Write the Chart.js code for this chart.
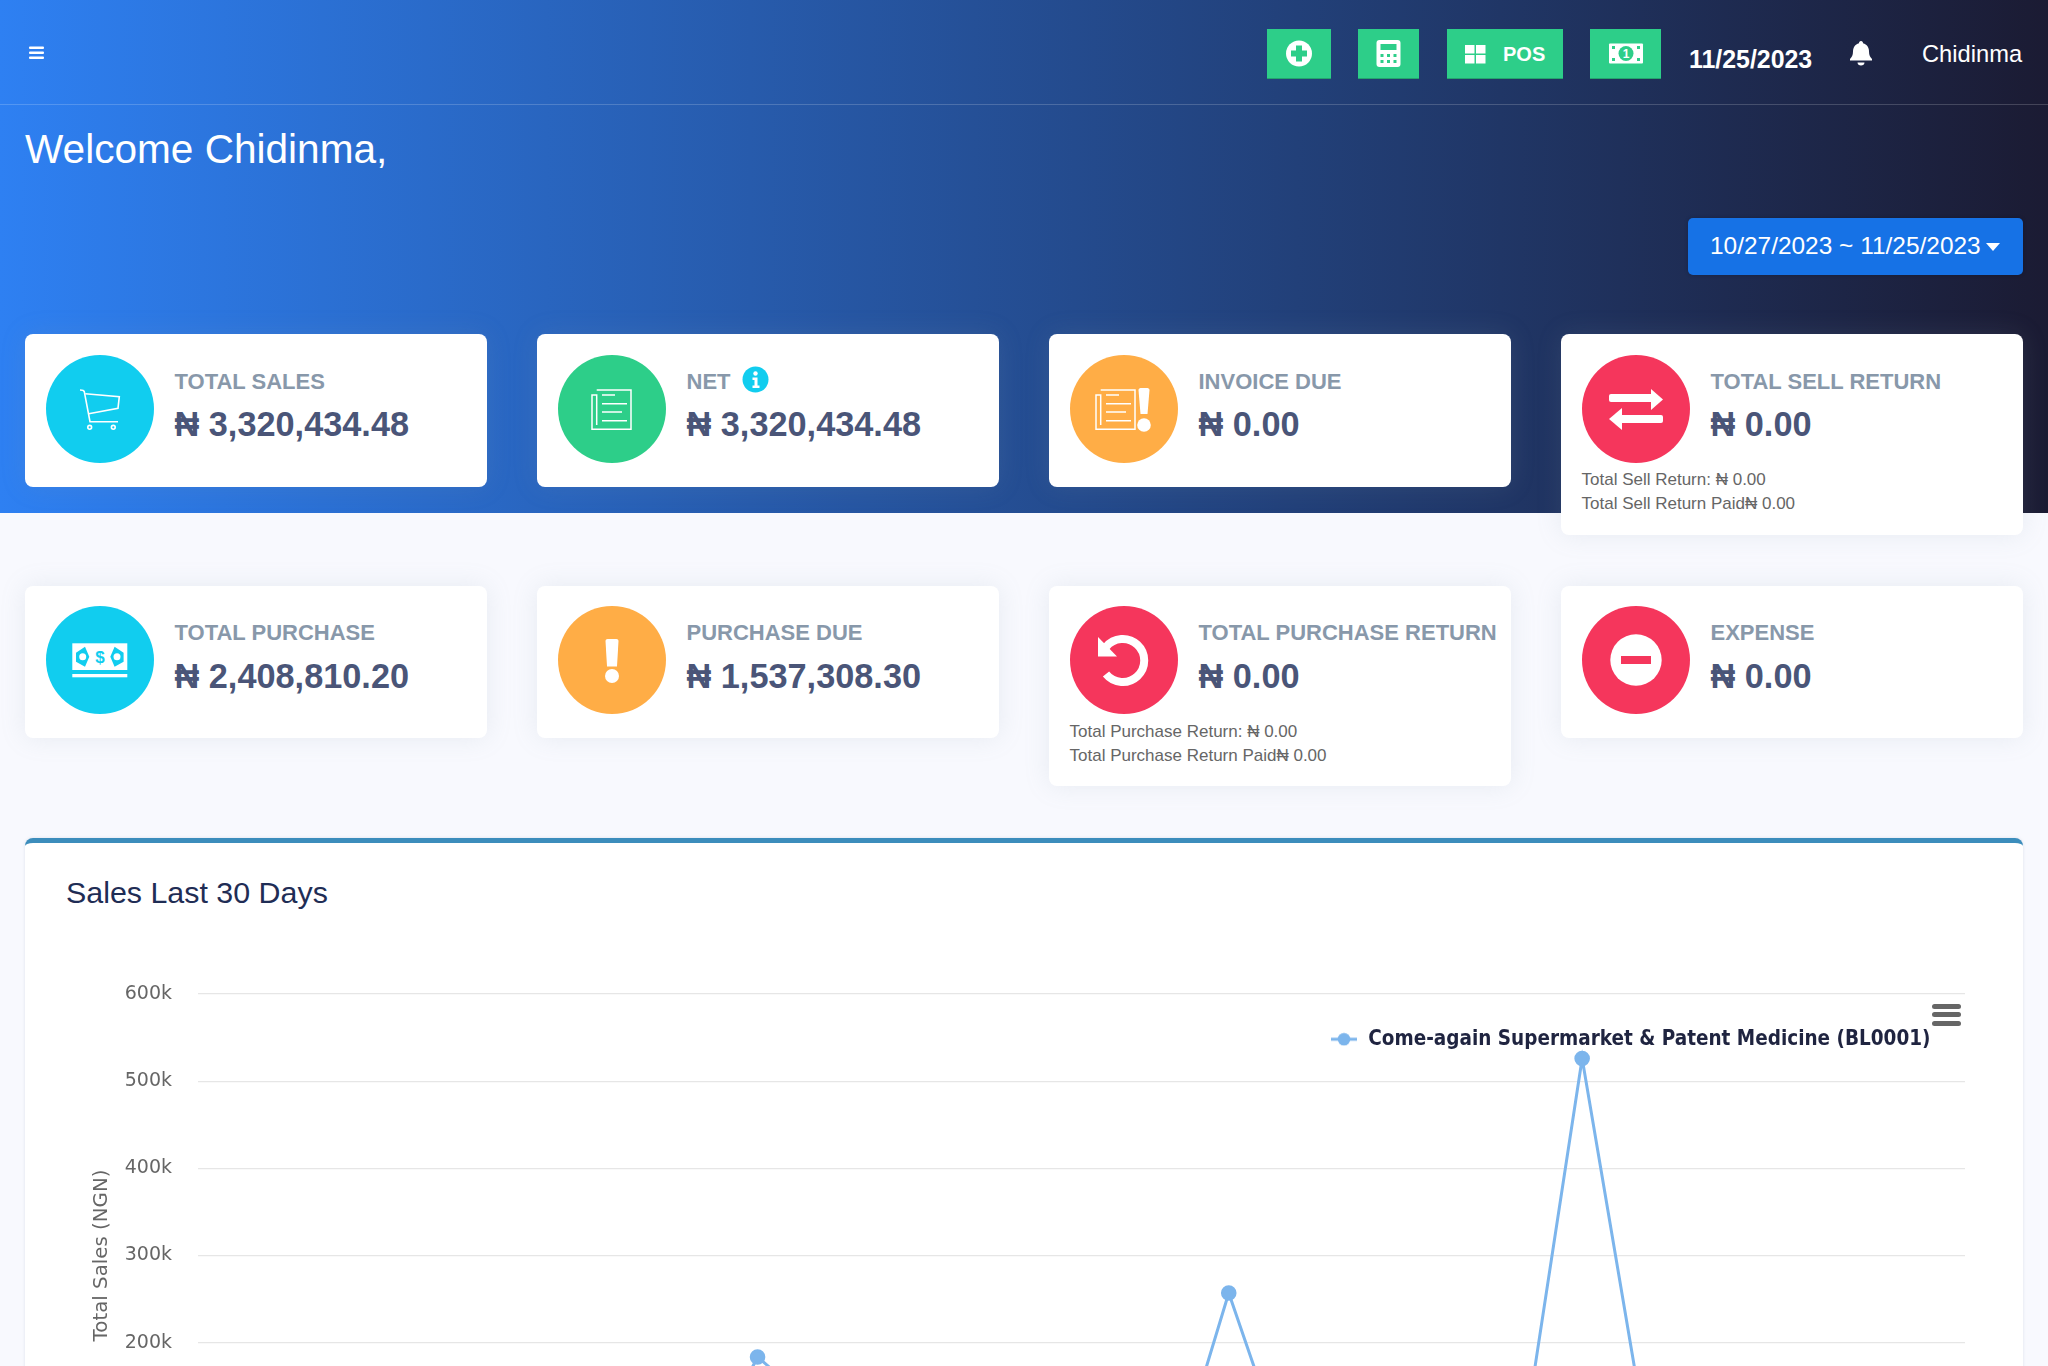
<!DOCTYPE html>
<html>
<head>
<meta charset="utf-8">
<title>Dashboard</title>
<script src="https://cdn.jsdelivr.net/npm/chart.js@4"></script>
<style>
html, body { margin: 0; padding: 0; width: 2048px; height: 1366px; overflow: hidden; background: #f8f9fe; font-family: "Liberation Sans", Arial, sans-serif; }
.abs, .card, .btn { position: absolute; }
#hero { position: absolute; left: 0; top: 0; width: 2048px; height: 513px; background: linear-gradient(to right, #2e80f2, #1b1b33); }
#navline { position: absolute; left: 0; top: 104px; width: 2048px; height: 1px; background: rgba(255,255,255,.18); }
.btn { background: #2dce89; top: 29px; height: 49px; border-bottom: 1px solid #24a46d; }
.card { width: 461.5px; background: #fff; border-radius: 8px; box-shadow: 0 0 26px rgba(136,152,170,.15); }
.card svg { position: absolute; left: 20.5px; top: 20px; width: 108px; height: 108px; }
.card .lbl { position: absolute; left: 149.5px; top: 35px; font-size: 22px; font-weight: bold; color: #8898aa; white-space: nowrap; line-height: 26px; }
.card .val { position: absolute; left: 149.5px; top: 70px; font-size: 34.3px; font-weight: bold; color: #4a5578; white-space: nowrap; line-height: 40px; }
.card .sub { position: absolute; left: 20.5px; font-size: 17px; color: #666; white-space: nowrap; line-height: 18px; }
#box { position: absolute; left: 25px; top: 838px; width: 1998px; height: 700px; background: #fff; border-top: 5px solid #3c8dbc; border-radius: 8px; box-sizing: border-box; box-shadow: 0 0 3px rgba(136,152,170,.25); }
#boxTitle { position: absolute; left: 66px; top: 873px; font-size: 30.4px; line-height: 38px; color: #1f2d55; white-space: nowrap; }
#salesChart { position: absolute; left: 25px; top: 846px; }
.menuBar { position: absolute; left: 1932px; width: 29px; height: 5px; border-radius: 2.5px; background: #666; }
</style>
</head>
<body>
<div id="hero"></div>
<div id="navline"></div>

<svg class="abs" style="left:29px;top:46px" width="15" height="14"><rect width="15" height="2.6" y="0.5" rx="1" fill="#fff"/><rect width="15" height="2.6" y="5.5" rx="1" fill="#fff"/><rect width="15" height="2.6" y="10.5" rx="1" fill="#fff"/></svg>
<div class="abs" style="left:25px;top:124px;font-size:40.6px;line-height:50px;color:#fff;white-space:nowrap">Welcome Chidinma,</div>

<div class="btn" style="left:1267px;width:64px">
  <svg width="64" height="49"><circle cx="32" cy="24.5" r="13" fill="#fff"/><rect x="29" y="16.5" width="6" height="16" fill="#2dce89"/><rect x="24" y="21.5" width="16" height="6" fill="#2dce89"/></svg>
</div>
<div class="btn" style="left:1358px;width:61px">
  <svg width="61" height="49"><rect x="18.5" y="11" width="24" height="27" rx="3" fill="#fff"/><rect x="22.5" y="15" width="16" height="6" fill="#2dce89"/><g fill="#2dce89"><rect x="22.5" y="25" width="3" height="3"/><rect x="29" y="25" width="3" height="3"/><rect x="35.5" y="25" width="3" height="3"/><rect x="22.5" y="31" width="3" height="3"/><rect x="29" y="31" width="3" height="3"/><rect x="35.5" y="31" width="3" height="3"/></g></svg>
</div>
<div class="btn" style="left:1447px;width:116px">
  <svg width="116" height="49"><g fill="#fff"><rect x="18" y="16" width="9.5" height="8.5"/><rect x="29" y="16" width="9.5" height="8.5"/><rect x="18" y="26" width="9.5" height="8.5"/><rect x="29" y="26" width="9.5" height="8.5"/></g></svg>
  <div class="abs" style="left:56px;top:13px;font-size:20px;line-height:24px;font-weight:bold;color:#fff">POS</div>
</div>
<div class="btn" style="left:1590px;width:71px">
  <svg width="71" height="49"><rect x="19" y="14.5" width="34" height="20" rx="1" fill="#fff"/><circle cx="36" cy="24.5" r="7.5" fill="#2dce89"/><text x="36" y="29" text-anchor="middle" font-size="12" font-weight="bold" fill="#fff" font-family="Liberation Sans">1</text><g fill="#2dce89"><rect x="22" y="17" width="3" height="3"/><rect x="47" y="17" width="3" height="3"/><rect x="22" y="29" width="3" height="3"/><rect x="47" y="29" width="3" height="3"/></g></svg>
</div>
<div class="abs" style="left:1689px;top:45px;font-size:24.9px;line-height:28px;font-weight:bold;color:#fff;white-space:nowrap">11/25/2023</div>
<svg class="abs" style="left:1849px;top:40px" width="24" height="26" viewBox="0 0 24 26"><path d="M12 1c1.4 0 2 1 2 2.2 4 1 6 4.4 6 8.3 0 4 1.200 5.500 3 7.500v1.500H1V19c1.800-2 3-3.500 3-7.500 0-3.900 2-7.300 6-8.300C10 2 10.600 1 12 1zM8.500 22.500h7c0 1.900-1.500 3-3.500 3s-3.500-1.100-3.500-3z" fill="#fff"/></svg>
<div class="abs" style="left:1922px;top:40px;font-size:23.7px;line-height:28px;color:#fff;white-space:nowrap">Chidinma</div>

<div class="abs" style="left:1688px;top:218px;width:335px;height:57px;background:#1672e6;border-radius:5px;box-shadow:0 0 4px rgba(0,0,0,.2)"></div>
<div class="abs" style="left:1710px;top:232px;font-size:24.45px;line-height:28px;color:#fff;white-space:nowrap">10/27/2023 ~ 11/25/2023</div>
<svg class="abs" style="left:1986px;top:243px" width="14" height="8"><path d="M0 0h14L7 8z" fill="#fff"/></svg>

<div id="cards"></div>

<div id="box"></div>
<div id="boxTitle">Sales Last 30 Days</div>
<canvas id="salesChart" width="1998" height="771"></canvas>
<div class="menuBar" style="top:1003.500px"></div>
<div class="menuBar" style="top:1012px"></div>
<div class="menuBar" style="top:1020.500px"></div>

<script>
// Chart data (points under the page fold are estimates)
const categories = ['10/27', '10/28', '10/29', '10/30', '10/31', '11/01', '11/02', '11/03', '11/04', '11/05',
    '11/06', '11/07', '11/08', '11/09', '11/10', '11/11', '11/12', '11/13', '11/14', '11/15',
    '11/16', '11/17', '11/18', '11/19', '11/20', '11/21', '11/22', '11/23', '11/24', '11/25'];
const salesValues = [92000, 78000, 105000, 64000, 118000, 87000, 99000, 72000, 49000, 183600,
    125000, 96000, 83000, 110000, 74000, 101000, 34000, 257000,
    60000, 88000, 115000, 79000, 84000, 526000, 127000, 93000, 69000, 107000, 85000, 76000];
const yTickLabels = ['0', '100k', '200k', '300k', '400k', '500k', '600k'];
const seriesName = 'Come-again Supermarket & Patent Medicine (BL0001)';
const axisTitle = 'Total Sales (NGN)';

// Stat cards
const cardRows = [334, 586];
const cardCols = [25, 537, 1049, 1561];
const cards = [
    { col: 0, row: 0, h: 152.5, label: 'TOTAL SALES', value: '₦ 3,320,434.48', color: '#11cdef', icon: 'cart' },
    { col: 1, row: 0, h: 152.5, label: 'NET', value: '₦ 3,320,434.48', color: '#2dce89', icon: 'doc', info: true },
    { col: 2, row: 0, h: 152.5, label: 'INVOICE DUE', value: '₦ 0.00', color: '#ffad46', icon: 'docAlert' },
    { col: 3, row: 0, h: 200.5, label: 'TOTAL SELL RETURN', value: '₦ 0.00', color: '#f5365c', icon: 'swap',
      sub: ['Total Sell Return: ₦ 0.00', 'Total Sell Return Paid₦ 0.00'] },
    { col: 0, row: 1, h: 152, label: 'TOTAL PURCHASE', value: '₦ 2,408,810.20', color: '#11cdef', icon: 'money' },
    { col: 1, row: 1, h: 152, label: 'PURCHASE DUE', value: '₦ 1,537,308.30', color: '#ffad46', icon: 'alert' },
    { col: 2, row: 1, h: 200, label: 'TOTAL PURCHASE RETURN', value: '₦ 0.00', color: '#f5365c', icon: 'undo',
      sub: ['Total Purchase Return: ₦ 0.00', 'Total Purchase Return Paid₦ 0.00'] },
    { col: 3, row: 1, h: 152, label: 'EXPENSE', value: '₦ 0.00', color: '#f5365c', icon: 'minus' }
];

function docShape(x, c) {
    return '<g fill="none" stroke="#fff" stroke-width="1.5"><path d="M' + (x + 4.700) + ' 35H' + (x + 39) + 'V74.300H' + x + 'V40H' + (x + 4.700) + 'V70"/>' +
        '<path d="M' + (x + 10) + ' 40H' + (x + 23) + 'M' + (x + 10) + ' 48.700H' + (x + 35) + 'M' + (x + 10) + ' 57H' + (x + 30) + 'M' + (x + 10) + ' 65.700H' + (x + 35) + '"/></g>';
}

const icons = {
    cart: c => '<g fill="none" stroke="#fff" stroke-width="1.600"><path d="M34 35c3 0 4 .5 4.300 1.700L44 66.700h28"/><path d="M39.300 38.700l34 3L72 53.300 42.700 58.700"/><circle cx="43.700" cy="72.300" r="1.900"/><circle cx="67.300" cy="72.300" r="1.900"/></g>',
    doc: c => docShape(34),
    docAlert: c => docShape(26) + '<path d="M68.500 35c0-1 1-2 2-2h7c1 0 2 1 2 2l-2 24h-7z" fill="#fff"/><circle cx="74" cy="70" r="6.800" fill="#fff"/>',
    swap: c => '<g fill="#fff"><rect x="27" y="39" width="44" height="8" rx="2"/><path d="M69 34L81 44.500 69 55z"/><rect x="38" y="60" width="43" height="8" rx="2"/><path d="M40 53L27 64 40 75z"/></g>',
    money: c => '<rect x="26.300" y="37.300" width="55" height="26.700" fill="#fff"/><rect x="26.300" y="68" width="55" height="3.300" fill="#fff"/>' +
        '<path d="M30 46.700l9-6 4.300 10-4.300 10-9-5zM77.600 46.700l-9-6-4.300 10 4.300 10 9-5z" fill="' + c + '"/><circle cx="36.700" cy="50.700" r="3.500" fill="#fff"/><circle cx="71" cy="50.700" r="3.500" fill="#fff"/>' +
        '<text x="54" y="56.500" text-anchor="middle" font-size="17" font-weight="bold" fill="' + c + '" font-family="Liberation Sans">$</text>',
    alert: c => '<path d="M47.500 35c0-1.200 1-2 2-2h9c1 0 2 .8 2 2l-1.500 25.500h-10z" fill="#fff"/><circle cx="54" cy="70" r="7" fill="#fff"/>',
    undo: c => '<path d="M36 41a21.500 21.500 0 1 1 0 27" fill="none" stroke="#fff" stroke-width="8"/><path d="M28 31v19.500h19z" fill="#fff"/>',
    minus: c => '<circle cx="54" cy="54" r="25.700" fill="#fff"/><rect x="39" y="50" width="30" height="8" fill="' + c + '"/>'
};

document.getElementById('cards').innerHTML = cards.map(function(card) {
    let subs = '';
    if (card.sub) {
        subs = '<div class="sub" style="top:136.500px">' + card.sub[0] + '</div><div class="sub" style="top:161px">' + card.sub[1] + '</div>';
    }
    let info = '';
    if (card.info) {
        info = '<svg style="left:204.5px;top:32px;width:27px;height:27px" viewBox="0 0 27 27"><circle cx="13.500" cy="13.500" r="13" fill="#11cdef"/><circle cx="13.500" cy="7.500" r="2.200" fill="#fff"/><path d="M10.500 11.500h5v8h2v2.500h-7v-2.500h2v-5.500h-2z" fill="#fff"/></svg>';
    }
    const circleTop = card.row === 0 ? 21 : 20;
    const labelTop = card.row === 0 ? 35 : 34;
    return '<div class="card" style="left:' + cardCols[card.col] + 'px;top:' + cardRows[card.row] + 'px;height:' + card.h + 'px">' +
        '<svg viewBox="0 0 108 108" style="top:' + circleTop + 'px"><circle cx="54" cy="54" r="54" fill="' + card.color + '"/>' + icons[card.icon](card.color) + '</svg>' +
        '<div class="lbl" style="top:' + labelTop + 'px">' + card.label + '</div>' + info + '<div class="val">' + card.value + '</div>' + subs + '</div>';
}).join('');

// Legend symbol: short line with a dot on it
const legendMark = document.createElement('canvas');
legendMark.width = 28;
legendMark.height = 14;
const legendCtx = legendMark.getContext('2d');
legendCtx.strokeStyle = '#7cb5ec';
legendCtx.lineWidth = 3;
legendCtx.beginPath();
legendCtx.moveTo(1, 7);
legendCtx.lineTo(27, 7);
legendCtx.stroke();
legendCtx.fillStyle = '#7cb5ec';
legendCtx.beginPath();
legendCtx.arc(14, 7, 6.3, 0, Math.PI * 2);
legendCtx.fill();

// Puts the legend on top of the plot, up in the right corner
const floatLegend = {
    id: 'floatLegend',
    afterLayout: function(chart) {
        const legend = chart.legend;
        legend.left = 1295;
        legend.top = 173;
        legend.right = legend.left + legend.width;
        legend.bottom = legend.top + legend.height;
    }
};

const ctxSales = document.getElementById('salesChart').getContext('2d');
const salesChart = new Chart(ctxSales, {
    type: 'line',
    data: {
        labels: categories,
        datasets: [{
            label: seriesName,
            data: salesValues,
            borderColor: '#7cb5ec',
            backgroundColor: '#7cb5ec',
            borderWidth: 3,
            pointRadius: 6.3,
            pointStyle: 'circle',
            tension: 0,
            fill: false
        }]
    },
    options: {
        responsive: false,
        animation: false,
        layout: { padding: { top: 148, left: 65, right: 58, bottom: 0 } },
        scales: {
            x: {
                offset: true,
                grid: { display: false },
                border: { color: '#ccd6eb' },
                ticks: { color: '#666', font: { family: '"DejaVu Sans"', size: 14 }, maxRotation: 0, autoSkip: false },
                afterFit: function(scale) { scale.height = 100; }
            },
            y: {
                min: 0,
                max: 600000,
                border: { display: false },
                grid: { color: '#e6e6e6', lineWidth: 1.3, drawTicks: false },
                ticks: {
                    stepSize: 100000,
                    padding: 26,
                    color: '#666',
                    font: { family: '"DejaVu Sans"', size: 19 },
                    callback: function(value, index) { return yTickLabels[index]; }
                },
                title: {
                    display: true,
                    text: axisTitle,
                    color: '#666',
                    font: { family: '"DejaVu Sans"', size: 19.800 },
                    padding: 0
                },
                afterFit: function(scale) { scale.width = 108; }
            }
        },
        plugins: {
            legend: {
                position: 'chartArea',
                align: 'start',
                labels: {
                    usePointStyle: true,
                    pointStyle: legendMark,
                    pointStyleWidth: 28,
                    color: '#1f2440',
                    font: { family: '"DejaVu Sans Condensed", "DejaVu Sans"', size: 20.500, weight: 'bold' }
                }
            },
            tooltip: { enabled: false }
        }
    },
    plugins: [floatLegend]
});
</script>
</body>
</html>
